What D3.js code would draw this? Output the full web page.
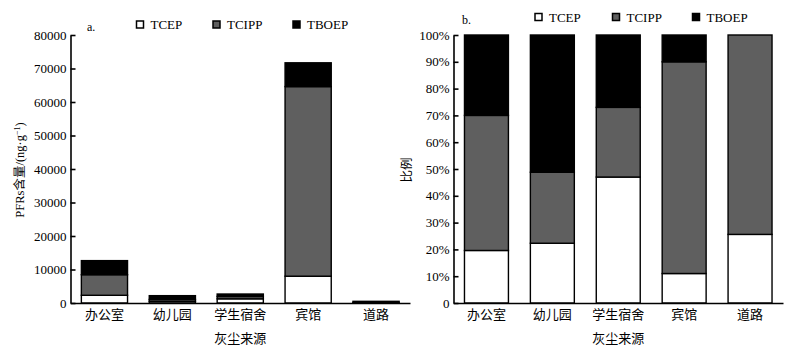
<!DOCTYPE html>
<html>
<head>
<meta charset="utf-8">
<script src="https://cdn.jsdelivr.net/npm/d3@7"></script>
<style>
  body { margin: 0; background: #fff; }
  svg text { font-family: "Liberation Serif", "Noto Sans CJK SC", serif; fill: #000; }
</style>
</head>
<body>
<div id="chart"></div>
<script>
// data
const categories = ["办公室", "幼儿园", "学生宿舍", "宾馆", "道路"];
const series = ["TCEP", "TCIPP", "TBOEP"];
// a. concentrations, ng/g
const tcep = [2300, 480, 1250, 8000, 130];
const tcipp = [6150, 580, 700, 56600, 370];
const tboep = [4200, 1130, 730, 7100, 0];
// b. proportions, %
const tcepPct = [19.6, 22.3, 47, 11, 25.6];
const tcippPct = [50.4, 26.5, 26, 79, 74.4];
const tboepPct = [30, 51.2, 27, 10, 0];
const yTicksA = [0, 10000, 20000, 30000, 40000, 50000, 60000, 70000, 80000];
const yTicksB = [0, 10, 20, 30, 40, 50, 60, 70, 80, 90, 100];

const color = d3.scaleOrdinal().domain(series).range(["#ffffff", "#5f5f5f", "#000000"]);

const svg = d3.select("#chart").append("svg")
    .attr("width", 801)
    .attr("height", 356);

const plotTop = 35, plotBottom = 303;

function panel(opts) {
    const x = d3.scaleBand()
        .domain(categories)
        .range(opts.xRange)
        .paddingInner(opts.pad)
        .paddingOuter(opts.pad / 2);

    const y = d3.scaleLinear()
        .domain([0, opts.max])
        .range([plotBottom, plotTop]);

    const rows = categories.map((c, i) => ({
        cat: c, TCEP: opts.vals[0][i], TCIPP: opts.vals[1][i], TBOEP: opts.vals[2][i]
    }));
    const stacked = d3.stack().keys(series)(rows);

    const g = svg.append("g");

    g.selectAll("g.layer")
        .data(stacked)
        .enter().append("g")
        .attr("class", "layer")
        .attr("fill", d => color(d.key))
        .selectAll("rect")
        .data(d => d.filter(s => s[1] - s[0] > 0))
        .enter().append("rect")
        .attr("x", d => x(d.data.cat))
        .attr("y", d => y(d[1]))
        .attr("width", x.bandwidth())
        .attr("height", d => y(d[0]) - y(d[1]))
        .attr("stroke", "#000")
        .attr("stroke-width", 1.4);

    // y axis, ticks pointing inward
    const yAxis = g.append("g")
        .attr("transform", `translate(${opts.xRange[0]},0)`)
        .call(d3.axisLeft(y)
            .tickValues(opts.ticks)
            .tickSizeInner(-5)
            .tickSizeOuter(0)
            .tickPadding(4)
            .tickFormat(opts.fmt));
    yAxis.selectAll("text").attr("font-size", 13).attr("font-family", null);
    yAxis.selectAll("path, line").attr("stroke", "#000").attr("stroke-width", 1.6);

    const xAxis = g.append("g")
        .attr("transform", `translate(0,${plotBottom})`)
        .call(d3.axisBottom(x).tickSize(0).tickPadding(7));
    xAxis.selectAll("text").attr("font-size", 13).attr("font-family", null);
    xAxis.select(".domain").attr("stroke", "#000").attr("stroke-width", 1.6);

    g.append("text")
        .attr("x", (opts.xRange[0] + opts.xRange[1]) / 2)
        .attr("y", 343)
        .attr("text-anchor", "middle")
        .attr("font-size", 13)
        .text("灰尘来源");

    g.append("text")
        .attr("x", opts.tag[0])
        .attr("y", opts.tag[1])
        .attr("font-size", 12)
        .text(opts.tagText);

    // legend
    const lg = g.append("g");
    series.forEach((s, i) => {
        lg.append("rect")
            .attr("x", opts.legendX[i])
            .attr("y", opts.legendY - 7)
            .attr("width", 7)
            .attr("height", 7)
            .attr("fill", color(s))
            .attr("stroke", "#000")
            .attr("stroke-width", 1.5);
        lg.append("text")
            .attr("x", opts.legendX[i] + 14)
            .attr("y", opts.legendY + 1)
            .attr("font-size", 13)
            .text(s);
    });
    return g;
}

const ga = panel({
    xRange: [70.5, 410], pad: 0.32, max: 80000, ticks: yTicksA,
    fmt: d => d, vals: [tcep, tcipp, tboep],
    tag: [87, 31], tagText: "a.",
    legendX: [136.5, 213, 293], legendY: 28
});

const yLabel = ga.append("text")
    .attr("transform", "translate(24,170) rotate(-90)")
    .attr("text-anchor", "middle")
    .attr("font-size", 12.5);
yLabel.append("tspan").text("PFRs含量/(ng·g");
yLabel.append("tspan").attr("baseline-shift", "super").attr("font-size", 8).text("−1");
yLabel.append("tspan").text(")");

const gb = panel({
    xRange: [453.5, 783], pad: 0.333, max: 100, ticks: yTicksB,
    fmt: d => d === 0 ? "0" : d + "%", vals: [tcepPct, tcippPct, tboepPct],
    tag: [462, 24], tagText: "b.",
    legendX: [535, 612.5, 692.5], legendY: 20.5
});

gb.append("text")
    .attr("transform", "translate(411,170) rotate(-90)")
    .attr("text-anchor", "middle")
    .attr("font-size", 12.5)
    .text("比例");
</script>
</body>
</html>
